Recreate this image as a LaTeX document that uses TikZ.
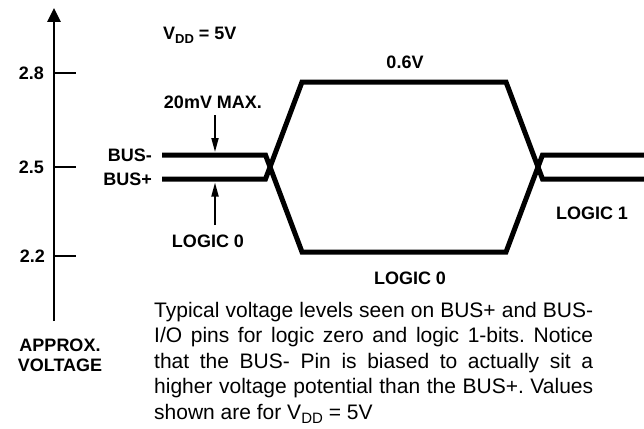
\documentclass[tikz,border=0pt]{standalone}
\usepackage{fontspec}
\setmainfont{Liberation Sans}
\usetikzlibrary{arrows.meta}
\frenchspacing
\begin{document}
\begin{tikzpicture}[x=1pt,y=-1pt,
  lbl/.style={font=\fontsize{18}{20}\selectfont\bfseries, inner sep=0pt},
  wave/.style={line width=5pt, line join=miter},
  tick/.style={line width=1.6pt},
  dim/.style={line width=1.8pt, -{Triangle[width=7pt,length=14pt]}},
  body/.style={font=\fontsize{21}{24}\selectfont, inner sep=0pt, anchor=base west}]
\useasboundingbox (0,0) rectangle (644,428);
% axis
\coordinate (axb) at (54,321);
\coordinate (axt) at (54,8);
\draw[line width=2.6pt, -{Triangle[width=13pt,length=14pt]}] (axb) -- (axt);
\foreach \n/\yy in {28/73, 25/167, 22/256}{
  \coordinate (tk\n a) at (54,\yy);
  \coordinate (tk\n b) at (76,\yy);
  \draw[tick] (tk\n a) -- (tk\n b);
}
\node[lbl, anchor=east] (l28) at (44,73) {2.8};
\node[lbl, anchor=east] (l25) at (44,167) {2.5};
\node[lbl, anchor=east] (l22) at (45,256) {2.2};
\node[lbl, align=center, font=\fontsize{18}{20}\selectfont\bfseries] (av) at (60,355) {APPROX.\\VOLTAGE};
% Vdd label
\node[lbl, anchor=base west] (vdd) at (163,39.5) {V\raisebox{-4pt}{\fontsize{13}{14}\selectfont DD} = 5V};
% waveforms
\draw[wave] (162,155) -- (265.5,155) -- (302,252) -- (506,252) -- (542.5,155) -- (648,155);
\draw[wave] (162,179) -- (265.5,179) -- (302,82) -- (506,82) -- (542.5,179) -- (648,179);
% labels
\node[lbl] (v06) at (405,62) {0.6V};
\node[lbl] (mx) at (213,102) {20mV MAX.};
\node[lbl, anchor=east] (bm) at (152,155) {BUS-};
\node[lbl, anchor=east] (bp) at (152,179) {BUS+};
\node[lbl] (lg0a) at (208,241) {LOGIC 0};
\node[lbl] (lg0b) at (410,278) {LOGIC 0};
\node[lbl] (lg1) at (592,213) {LOGIC 1};
% 20 mV arrows
\coordinate (d1) at (215,115);
\coordinate (d2) at (215,152);
\coordinate (u1) at (215,225);
\coordinate (u2) at (215,182.5);
\draw[dim] (d1) -- (d2);
\draw[dim] (u1) -- (u2);
% body text
\node[body] (t1) at (154,317) {\makebox[439pt][s]{Typical voltage levels seen on BUS+ and BUS-}};
\node[body] (t2) at (154,342.5) {\makebox[439pt][s]{I/O pins for logic zero and logic 1-bits. Notice}};
\node[body] (t3) at (154,368) {\makebox[439pt][s]{that the BUS- Pin is biased to actually sit a}};
\node[body] (t4) at (154,393.5) {\makebox[439pt][s]{higher voltage potential than the BUS+. Values}};
\node[body] (t5) at (154,419) {shown are for V\raisebox{-4.5pt}{\fontsize{15}{16}\selectfont DD} = 5V};
\end{tikzpicture}
\end{document}
